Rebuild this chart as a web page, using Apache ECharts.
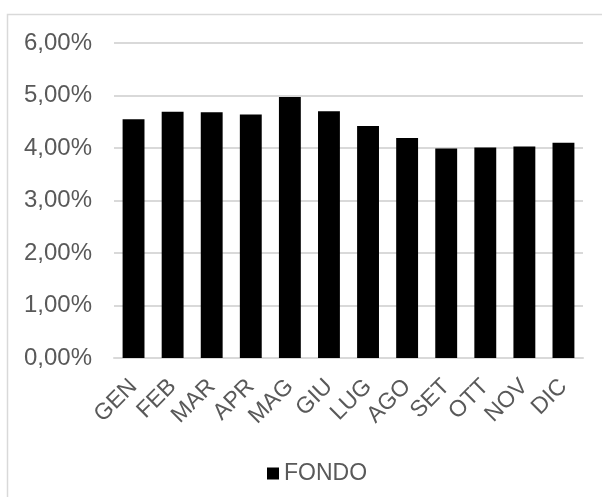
<!DOCTYPE html>
<html>
<head>
<meta charset="utf-8">
<script src="https://cdn.jsdelivr.net/npm/echarts@6/dist/echarts.min.js"></script>
<style>
  html, body { margin: 0; padding: 0; background: #fff; }
  #chart { width: 602px; height: 497px; }
</style>
</head>
<body>
<div id="chart"></div>
<script>
const months = ['GEN', 'FEB', 'MAR', 'APR', 'MAG', 'GIU', 'LUG', 'AGO', 'SET', 'OTT', 'NOV', 'DIC'];
const fondo = [4.55, 4.69, 4.68, 4.64, 4.97, 4.70, 4.42, 4.19, 3.99, 4.01, 4.03, 4.10];

const pct = v => v.toFixed(2).replace('.', ',') + '%';
const textColor = '#595959';
const fontFamily = 'Liberation Sans, Arial, sans-serif';

const chart = echarts.init(document.getElementById('chart'));
chart.setOption({
  animation: false,
  backgroundColor: '#fff',
  graphic: [{
    type: 'rect',
    shape: { x: 7.5, y: 14.5, width: 700, height: 600 },
    style: { fill: 'none', stroke: '#d9d9d9', lineWidth: 1.5 },
    silent: true
  }],
  grid: { left: 114, right: 19, top: 43, bottom: 139 },
  legend: {
    data: ['FONDO'],
    top: 457,
    left: 262,
    icon: 'rect',
    itemWidth: 12,
    itemHeight: 12,
    itemGap: 8,
    textStyle: { color: textColor, fontSize: 23, fontFamily: fontFamily }
  },
  xAxis: {
    type: 'category',
    data: months,
    axisLine: { lineStyle: { color: '#d9d9d9', width: 2 } },
    axisTick: { show: false },
    axisLabel: {
      rotate: 45,
      margin: 25,
      color: textColor,
      fontSize: 23,
      fontFamily: fontFamily,
      interval: 0
    }
  },
  yAxis: {
    type: 'value',
    min: 0,
    max: 6,
    interval: 1,
    axisLine: { show: false },
    axisTick: { show: false },
    splitLine: { lineStyle: { color: '#d9d9d9', width: 2 } },
    axisLabel: {
      margin: 22,
      color: textColor,
      fontSize: 24,
      fontFamily: fontFamily,
      formatter: v => pct(v)
    }
  },
  series: [{
    name: 'FONDO',
    type: 'bar',
    data: fondo,
    barWidth: '56%',
    itemStyle: { color: '#000' }
  }]
});
</script>
</body>
</html>
